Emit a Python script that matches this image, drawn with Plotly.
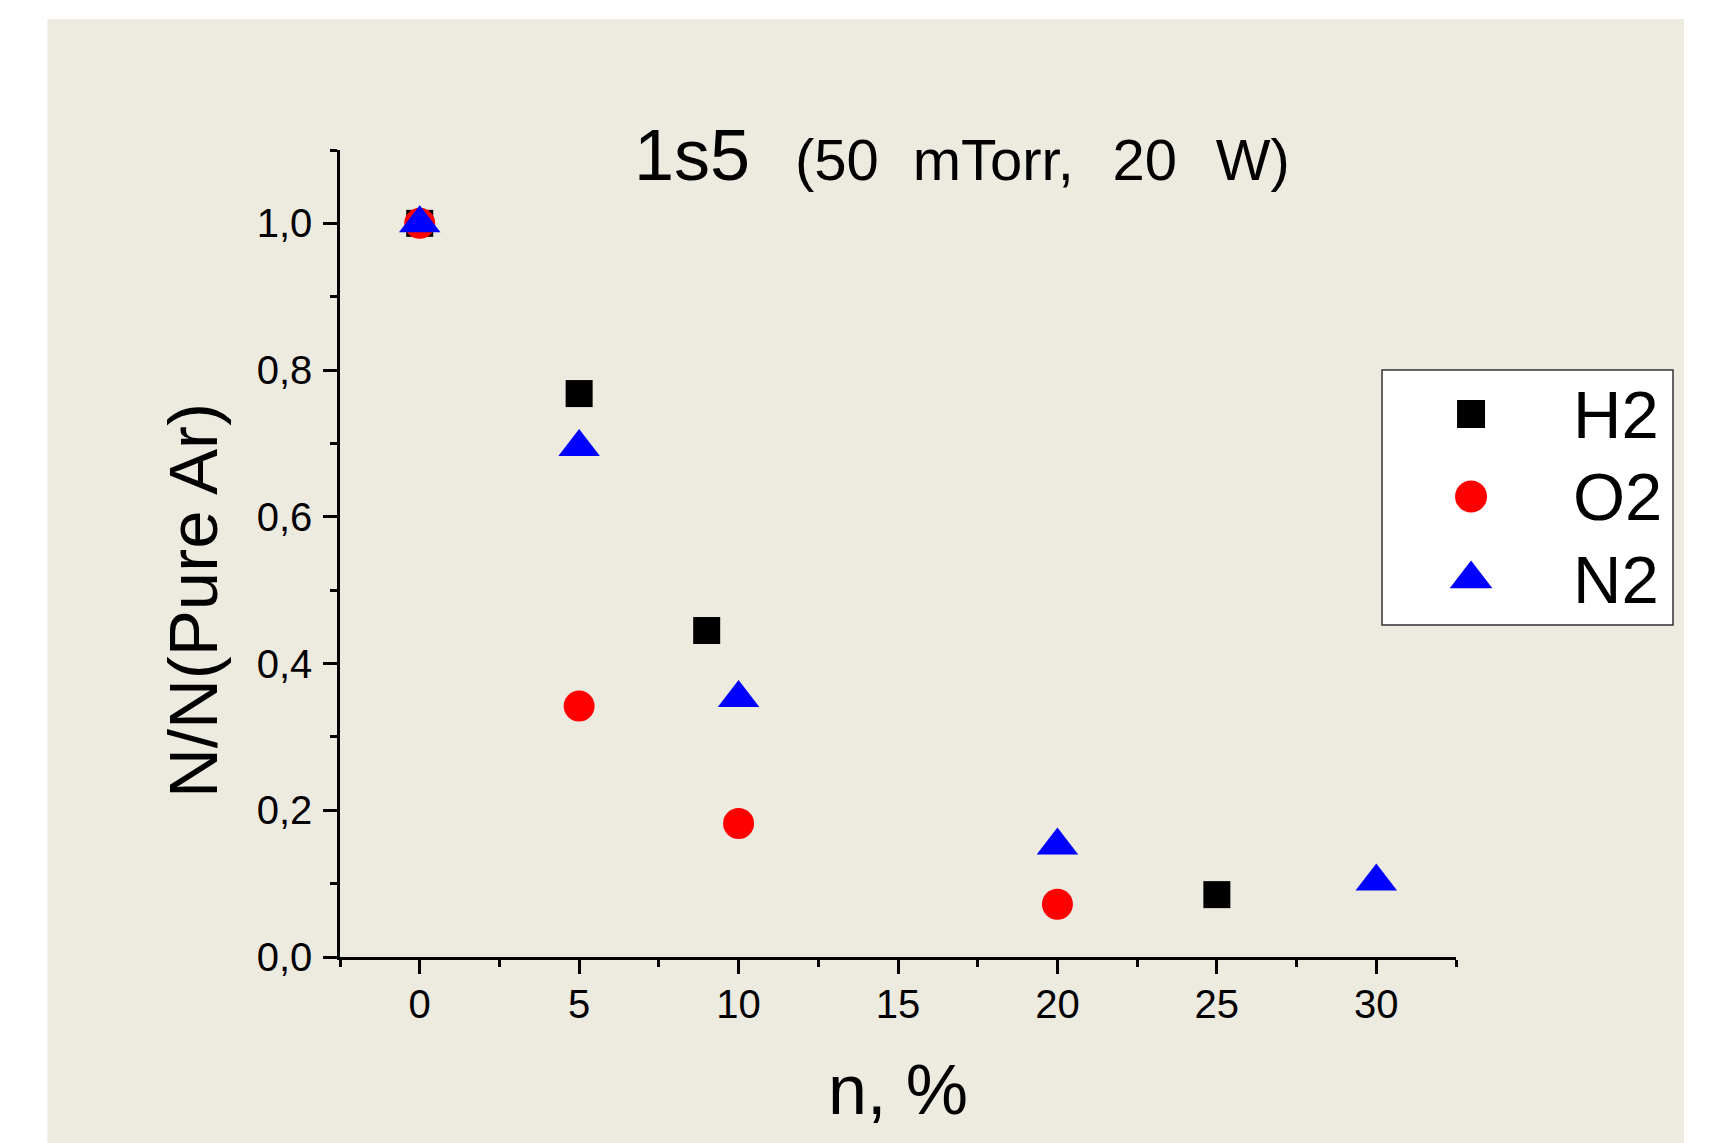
import plotly.graph_objects as go

# ---- data ----
series_names = ["H2", "O2", "N2"]
h2_x = [0, 5, 9, 25]
h2_y = [1.0, 0.768, 0.445, 0.085]
o2_x = [0, 5, 10, 20]
o2_y = [1.0, 0.342, 0.182, 0.072]
n2_x = [0, 5, 10, 20, 30]
n2_y = [1.0, 0.695, 0.353, 0.152, 0.103]

x_tick_vals = [0, 5, 10, 15, 20, 25, 30]
x_tick_text = ["0", "5", "10", "15", "20", "25", "30"]
y_tick_vals = [0.0, 0.2, 0.4, 0.6, 0.8, 1.0]
y_tick_text = ["0,0", "0,2", "0,4", "0,6", "0,8", "1,0"]

title_main = "1s5"
title_sub = "(50\u2002\u200amTorr,\u2002\u200a\u200a20\u2002\u200a\u200aW)"
x_title = "n, %"
y_title = "N/N(Pure Ar)"

FONT = "Liberation Sans, Arial, Helvetica, sans-serif"
BEIGE = "#EDEAE0"

# page is offset by the default 8px body margin
OFF = 8
W, H = 1730 - OFF, 1143 - OFF
# plotting region (figure coords)
L, T = 332, 142
RIGHT_EDGE = 1665          # right edge of paper area (legend box right)
BOTTOM_EDGE = 949          # x-axis line
R, B = W - RIGHT_EDGE, H - BOTTOM_EDGE
pw, ph = RIGHT_EDGE - L, BOTTOM_EDGE - T
MAIN_W = 1116              # width of the main axes in px


def px(xp):  # page x -> paper
    return (xp - OFF - L) / pw


def py(yp):  # page y -> paper
    return (BOTTOM_EDGE - (yp - OFF)) / ph


styles = {
    "H2": dict(symbol="square", color="black", size=27),
    "O2": dict(symbol="circle", color="red", size=31),
    "N2": dict(symbol="triangle-up", color="blue", size=36),
}
data = {"H2": (h2_x, h2_y), "O2": (o2_x, o2_y), "N2": (n2_x, n2_y)}

fig = go.Figure()
for name in series_names:
    xs, ys = data[name]
    st = styles[name]
    fig.add_trace(go.Scatter(
        x=xs, y=ys, name=name, mode="markers", showlegend=False,
        marker=dict(symbol=st["symbol"], color=st["color"], size=st["size"],
                    line=dict(width=0)),
        hoverinfo="skip", xaxis="x", yaxis="y",
    ))

# legend keys on an overlay axis (categorical by series name)
LEG_KEY_X = 0.306
LEG_TEXT_X = 0.65
leg_sizes = {"H2": 28, "O2": 32, "N2": 37}
for name in series_names:
    st = styles[name]
    fig.add_trace(go.Scatter(
        x=[LEG_KEY_X], y=[name], mode="markers", showlegend=False,
        marker=dict(symbol=st["symbol"], color=st["color"],
                    size=leg_sizes[name], line=dict(width=0)),
        hoverinfo="skip", xaxis="x2", yaxis="y2", cliponaxis=False,
    ))

axis_common = dict(
    showline=True, linecolor="black", linewidth=2.5, mirror=False,
    showgrid=False, zeroline=False, ticks="outside", ticklen=14,
    tickwidth=2.5, tickcolor="black",
    tickfont=dict(family=FONT, size=40, color="black"),
)

leg_x0, leg_x1, leg_y0, leg_y1 = 1382, 1673, 370, 625
leg_rows_top, leg_rows_step = 414, 82.5
y2_top = (leg_y0 - leg_rows_top) / leg_rows_step
y2_bot = (leg_y1 - leg_rows_top) / leg_rows_step

fig.update_layout(
    width=W, height=H,
    margin=dict(l=L, r=R, t=T, b=B, pad=0, autoexpand=False),
    paper_bgcolor="white",
    plot_bgcolor="rgba(0,0,0,0)",
    font=dict(family=FONT, color="black"),
    showlegend=False,
    xaxis=dict(
        domain=[0, MAIN_W / pw],
        range=[-2.5, 32.5], tickmode="array", tickvals=x_tick_vals,
        ticktext=x_tick_text, ticklabelstandoff=-4,
        minor=dict(tickmode="linear", tick0=0, dtick=2.5, ticks="outside",
                   ticklen=7, tickwidth=2.5, tickcolor="black"),
        **axis_common,
    ),
    yaxis=dict(
        range=[0, 1.1], tickmode="array", tickvals=y_tick_vals,
        ticktext=y_tick_text, ticklabelstandoff=3,
        minor=dict(tickmode="linear", tick0=0, dtick=0.1, ticks="outside",
                   ticklen=7, tickwidth=2.5, tickcolor="black"),
        **axis_common,
    ),
    xaxis2=dict(domain=[px(leg_x0), px(leg_x1)], range=[0, 1], anchor="y2",
                visible=False, fixedrange=True),
    yaxis2=dict(domain=[py(leg_y1), py(leg_y0)], anchor="x2", type="category",
                categoryorder="array", categoryarray=series_names,
                range=[y2_bot, y2_top], visible=False, fixedrange=True),
    shapes=[
        dict(type="rect", xref="paper", yref="paper", layer="below",
             x0=px(47.5), x1=px(1684), y0=py(1200), y1=py(19),
             fillcolor=BEIGE, line=dict(width=0)),
        dict(type="rect", xref="paper", yref="paper", layer="below",
             x0=px(leg_x0), x1=px(leg_x1), y0=py(leg_y1), y1=py(leg_y0),
             fillcolor="white", line=dict(color="#333333", width=1.5)),
    ],
    annotations=[
        dict(text=title_main, xref="paper", yref="paper", x=px(632), y=py(197),
             xanchor="left", yanchor="bottom", showarrow=False,
             font=dict(family=FONT, size=72, color="black")),
        dict(text=title_sub, xref="paper", yref="paper", x=px(793), y=py(194),
             xanchor="left", yanchor="bottom", showarrow=False,
             font=dict(family=FONT, size=58, color="black")),
        dict(text=x_title, xref="paper", yref="paper", x=0.5 * MAIN_W / pw,
             y=py(1090), xanchor="center", yanchor="middle", showarrow=False,
             font=dict(family=FONT, size=70, color="black")),
        dict(text=y_title, xref="paper", yref="paper", x=px(193), y=py(601),
             xanchor="center", yanchor="middle", showarrow=False, textangle=-90,
             font=dict(family=FONT, size=69, color="black")),
    ] + [
        dict(text=name, xref="x2", yref="y2", x=LEG_TEXT_X, y=name,
             xanchor="left", yanchor="middle", showarrow=False,
             font=dict(family=FONT, size=67, color="black"))
        for name in series_names
    ],
)

fig.write_html("out.html", config={"displayModeBar": False})
